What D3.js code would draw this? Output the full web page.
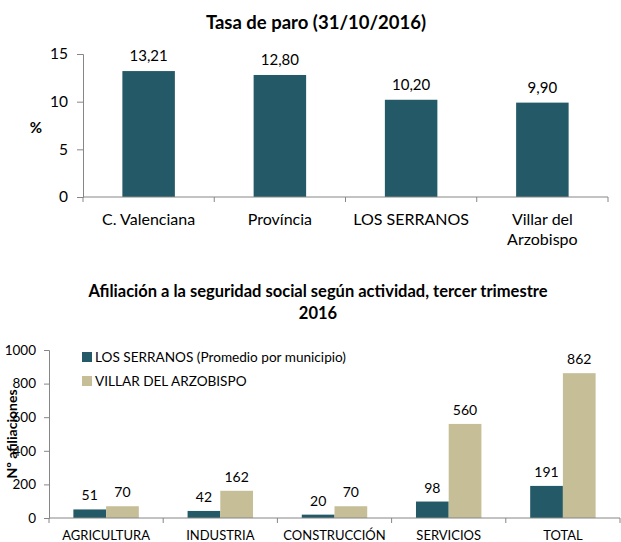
<!DOCTYPE html>
<html>
<head>
<meta charset="utf-8">
<script src="https://cdn.jsdelivr.net/npm/d3@7"></script>
<style>
  body { margin: 0; background: #fff; }
  svg { display: block; font-family: Lato, "Open Sans", sans-serif; }
</style>
</head>
<body>
<svg id="chart" width="621" height="542"></svg>
<script>
// Tasa de paro
const paroCategories = ["C. Valenciana", "Província", "LOS SERRANOS", "Villar del Arzobispo"];
const paroLabels = [["C. Valenciana"], ["Província"], ["LOS SERRANOS"], ["Villar del", "Arzobispo"]];
const paroValues = [13.21, 12.8, 10.2, 9.9];
const paroTicks = [0, 5, 10, 15];

// Afiliación
const actCategories = ["AGRICULTURA", "INDUSTRIA", "CONSTRUCCIÓN", "SERVICIOS", "TOTAL"];
const serranosValues = [51, 42, 20, 98, 191];
const villarValues = [70, 162, 70, 560, 862];
const seriesNames = ["LOS SERRANOS (Promedio por municipio)", "VILLAR DEL ARZOBISPO"];
const actTicks = [0, 200, 400, 600, 800, 1000];

const dark = "#245a68";
const tan = "#c5be97";
const axisColor = "#868686";

const svg = d3.select("#chart");
const es = d3.formatLocale({ decimal: ",", thousands: ".", grouping: [3], currency: ["", "€"] });
const fmt2 = es.format(".2f");

// ---------- top chart ----------
const box1 = { x0: 83, x1: 608, y0: 197, y1: 54 };

const x1 = d3.scaleBand().domain(paroCategories).range([box1.x0, box1.x1]).padding(0);
const y1 = d3.scaleLinear().domain([0, 15]).range([box1.y0, box1.y1]);

svg.append("text")
  .attr("x", 316).attr("y", 29)
  .attr("text-anchor", "middle")
  .attr("font-size", 18.5).attr("font-weight", "bold")
  .text("Tasa de paro (31/10/2016)");

const bw1 = x1.bandwidth() * 0.4;
svg.append("g").selectAll("rect")
  .data(paroValues)
  .join("rect")
  .attr("x", (d, i) => x1(paroCategories[i]) + (x1.bandwidth() - bw1) / 2)
  .attr("y", d => y1(d))
  .attr("width", bw1)
  .attr("height", d => y1(0) - y1(d))
  .attr("fill", dark);

svg.append("g").selectAll("text")
  .data(paroValues)
  .join("text")
  .attr("x", (d, i) => x1(paroCategories[i]) + x1.bandwidth() / 2)
  .attr("y", d => y1(d) - 10)
  .attr("text-anchor", "middle")
  .attr("font-size", 15)
  .text(d => fmt2(d));

const yAxis1 = svg.append("g")
  .attr("transform", `translate(${box1.x0},0)`)
  .call(d3.axisLeft(y1).tickValues(paroTicks).tickSize(6).tickPadding(9));
yAxis1.selectAll("text").attr("font-size", 15.5).attr("font-family", "Lato, sans-serif").attr("fill", "#000");

const xAxis1 = svg.append("g")
  .attr("transform", `translate(0,${box1.y0})`);
xAxis1.append("line")
  .attr("x1", box1.x0).attr("x2", box1.x1).attr("y1", 0).attr("y2", 0);
xAxis1.selectAll("line.t")
  .data(paroCategories.concat([null]))
  .join("line").attr("class", "t")
  .attr("x1", (d, i) => box1.x0 + i * x1.bandwidth())
  .attr("x2", (d, i) => box1.x0 + i * x1.bandwidth())
  .attr("y1", 0).attr("y2", 5);
xAxis1.selectAll("text")
  .data(paroLabels)
  .join("text")
  .attr("x", (d, i) => x1(paroCategories[i]) + x1.bandwidth() / 2)
  .attr("y", 28)
  .attr("text-anchor", "middle")
  .attr("font-size", 16)
  .selectAll("tspan")
  .data(d => d)
  .join("tspan")
  .attr("x", function () { return this.parentNode.getAttribute("x"); })
  .attr("dy", (d, i) => i === 0 ? 0 : 20)
  .text(d => d);

svg.append("text")
  .attr("x", 36).attr("y", 133)
  .attr("text-anchor", "middle")
  .attr("font-size", 15).attr("font-weight", "bold")
  .text("%");

// ---------- bottom chart ----------
const box2 = { x0: 49, x1: 620, y0: 518, y1: 350 };

const x2 = d3.scaleBand().domain(actCategories).range([box2.x0, box2.x1]).padding(0);
const y2 = d3.scaleLinear().domain([0, 1000]).range([box2.y0, box2.y1]);
const groupW = x2.bandwidth() * 0.573;
const xs = d3.scaleBand().domain([0, 1]).range([0, groupW]);

svg.append("text")
  .attr("x", 318).attr("y", 297)
  .attr("text-anchor", "middle")
  .attr("font-size", 16.5).attr("font-weight", "bold")
  .text("Afiliación a la seguridad social según actividad, tercer trimestre");
svg.append("text")
  .attr("x", 318).attr("y", 319)
  .attr("text-anchor", "middle")
  .attr("font-size", 16.5).attr("font-weight", "bold")
  .text("2016");

const series = [serranosValues, villarValues];
const colors = [dark, tan];

series.forEach((vals, s) => {
  const g = svg.append("g");
  g.selectAll("rect")
    .data(vals)
    .join("rect")
    .attr("x", (d, i) => x2(actCategories[i]) + (x2.bandwidth() - groupW) / 2 + xs(s))
    .attr("y", d => y2(d))
    .attr("width", xs.bandwidth())
    .attr("height", d => y2(0) - y2(d))
    .attr("fill", colors[s]);
  g.selectAll("text")
    .data(vals)
    .join("text")
    .attr("x", (d, i) => x2(actCategories[i]) + (x2.bandwidth() - groupW) / 2 + xs(s) + xs.bandwidth() / 2)
    .attr("y", d => y2(d) - 9)
    .attr("text-anchor", "middle")
    .attr("font-size", 14)
    .text(d => d);
});

const yAxis2 = svg.append("g")
  .attr("transform", `translate(${box2.x0},0)`)
  .call(d3.axisLeft(y2).tickValues(actTicks).tickFormat(d3.format("d")).tickSize(5).tickPadding(8));
yAxis2.selectAll("text").attr("font-size", 13.5).attr("font-family", "Lato, sans-serif").attr("fill", "#000");

const xAxis2 = svg.append("g")
  .attr("transform", `translate(0,${box2.y0})`);
xAxis2.append("line")
  .attr("x1", box2.x0).attr("x2", box2.x1).attr("y1", 0).attr("y2", 0);
xAxis2.selectAll("line.t")
  .data(actCategories.concat([null]))
  .join("line").attr("class", "t")
  .attr("x1", (d, i) => box2.x0 + i * x2.bandwidth())
  .attr("x2", (d, i) => box2.x0 + i * x2.bandwidth())
  .attr("y1", 0).attr("y2", 5);
xAxis2.selectAll("text")
  .data(actCategories)
  .join("text")
  .attr("x", d => x2(d) + x2.bandwidth() / 2)
  .attr("y", 22)
  .attr("text-anchor", "middle")
  .attr("font-size", 13)
  .text(d => d);

svg.append("text")
  .attr("transform", "translate(17,434) rotate(-90)")
  .attr("text-anchor", "middle")
  .attr("font-size", 14).attr("font-weight", "bold")
  .text("Nº afiliaciones");

// legend
const legend = svg.append("g");
seriesNames.forEach((name, i) => {
  const ly = 357 + i * 24;
  legend.append("rect")
    .attr("x", 82).attr("y", ly - 5)
    .attr("width", 10).attr("height", 10)
    .attr("fill", colors[i]);
  legend.append("text")
    .attr("x", 95).attr("y", ly + 4.5)
    .attr("font-size", 13.6)
    .text(name);
});

svg.selectAll(".domain, .tick line, line.t, g > line").attr("stroke", axisColor);
</script>
</body>
</html>
